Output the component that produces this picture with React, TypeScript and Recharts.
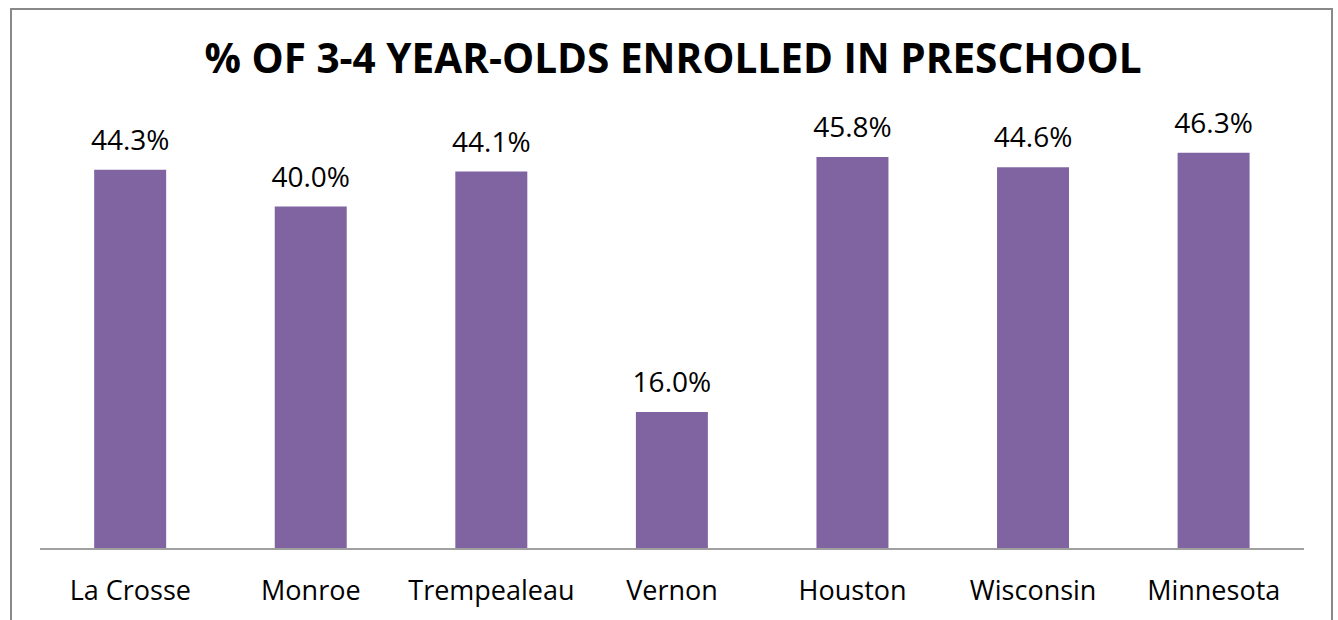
import React from "react";
import { BarChart, Bar, XAxis, YAxis, LabelList } from "recharts";

const categories = ["La Crosse", "Monroe", "Trempealeau", "Vernon", "Houston", "Wisconsin", "Minnesota"];
const enrolled = [44.3, 40.0, 44.1, 16.0, 45.8, 44.6, 46.3];
const title = "% OF 3-4 YEAR-OLDS ENROLLED IN PRESCHOOL";

const data = categories.map((name, i) => ({ name, value: enrolled[i] }));

const FONT = "'Open Sans', 'Liberation Sans', sans-serif";

const CategoryTick = (props: any) => {
  const { x, y, payload } = props;
  return (
    <text x={x} y={y + 51} textAnchor="middle" fontFamily={FONT} fontSize={27} fill="#000">
      {payload.value}
    </text>
  );
};

export default function App() {
  return (
    <div style={{ position: "relative", width: 1338, height: 620, overflow: "hidden", background: "#fff" }}>
      <style>{`body{margin:0;}`}</style>
      <div
        style={{
          position: "absolute",
          left: 10,
          top: 8,
          width: 1323,
          height: 700,
          border: "2px solid #898989",
          boxSizing: "border-box",
        }}
      />
      <div style={{ position: "absolute", left: 0, top: 0 }}>
        <BarChart
          width={1338}
          height={620}
          data={data}
          margin={{ top: 121, right: 34, bottom: 0, left: 40 }}
          barCategoryGap="30%"
        >
          <text x={673} y={73} textAnchor="middle" fontFamily={FONT} fontWeight={700} fontSize={40.5} fill="#000">
            {title}
          </text>
          <XAxis
            dataKey="name"
            height={71}
            axisLine={{ stroke: "#a0a0a0", strokeWidth: 2 }}
            tickLine={false}
            tickSize={0}
            tickMargin={0}
            tick={<CategoryTick />}
            interval={0}
          />
          <YAxis hide domain={[0, 50]} />
          <Bar dataKey="value" fill="#8064A2" isAnimationActive={false}>
            <LabelList
              dataKey="value"
              position="top"
              offset={20}
              formatter={(v: any) => `${Number(v).toFixed(1)}%`}
              style={{ fontFamily: FONT, fontSize: 28, fill: "#000" }}
            />
          </Bar>
        </BarChart>
      </div>
    </div>
  );
}
